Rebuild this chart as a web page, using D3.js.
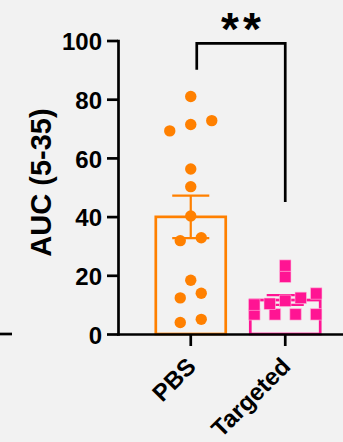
<!DOCTYPE html>
<html>
<head>
<meta charset="utf-8">
<script src="https://cdn.jsdelivr.net/npm/d3@7"></script>
<style>
body { margin: 0; background: #f2f2f2; }
svg { display: block; font-family: "Liberation Sans", Arial, sans-serif; font-weight: bold; }
</style>
</head>
<body>
<div id="chart"></div>
<script>
const width = 343
const height = 442

const margin = {
    top: 40.5,
    bottom: 108,
    left: 118
}

// data
const categories = ["PBS", "Targeted"]
const pbsValues = [80.9, 72.7, 71.4, 69.2, 56.2, 50.2, 40.2, 32.8, 31.8, 18.3, 13.9, 12.3, 5.0, 3.9]
const targetedValues = [23.3, 19.5, 13.8, 12.3, 11.3, 10.3, 10.0, 6.7, 6.7, 6.7, 6.7]
const yTicks = [0, 20, 40, 60, 80, 100]
const yTitle = "AUC (5-35)"
const sigLabel = "**"
const bracketValues = [90, 99, 45]   // left arm end, bar, right arm end

const colors = { PBS: "#ff8000", Targeted: "#ff1493" }

const svg = d3.select("div#chart").append("svg").attr("width", width).attr("height", height)
svg.append("rect").attr("width", width).attr("height", height).attr("fill", "#f2f2f2")

const x = d3.scaleBand().domain(categories).range([margin.left, margin.left + 240]).paddingInner(0.26).paddingOuter(0.4)
const y = d3.scaleLinear().domain([0, 100]).range([height - margin.bottom, margin.top])

const groups = [
    { name: "PBS", values: pbsValues },
    { name: "Targeted", values: targetedValues }
]
groups.forEach(g => {
    g.mean = d3.mean(g.values)
    g.sem = d3.deviation(g.values) / Math.sqrt(g.values.length)
})

// simple column scatter: values that sit close together are laid out in a row
function swarm(values, step, maxHalf) {
    const sorted = values.slice().sort((a, b) => a - b)
    const rows = []
    let cur = []
    sorted.forEach((v, k) => {
        if (k > 0 && y(sorted[k - 1]) - y(v) >= 9) { rows.push(cur); cur = [] }
        cur.push(v)
    })
    rows.push(cur)
    const out = []
    rows.forEach(r => {
        const n = r.length
        const s = n > 1 ? Math.min(step, 2 * maxHalf / (n - 1)) : 0
        r.forEach((v, j) => out.push({ v: v, dx: (j - (n - 1) / 2) * s }))
    })
    return out
}

const chart = svg.append("g").attr("class", "chart")

// bars
chart.selectAll("rect.bar").data(groups).enter()
    .append("rect")
    .attr("class", "bar")
    .attr("x", d => x(d.name))
    .attr("y", d => y(d.mean))
    .attr("width", x.bandwidth())
    .attr("height", d => y(0) - y(d.mean))
    .attr("fill", "none")
    .attr("stroke", d => colors[d.name])
    .attr("stroke-width", 2.7)

// error bars (mean +/- SEM)
const cap = x.bandwidth() * 0.265
const err = chart.selectAll("g.err").data(groups).enter().append("g").attr("class", "err")
    .attr("stroke", d => colors[d.name]).attr("stroke-width", 2.2).attr("fill", "none")
err.append("path")
    .attr("d", d => {
        const cx = x(d.name) + x.bandwidth() / 2
        const hi = y(d.mean + d.sem), lo = y(d.mean - d.sem)
        return `M${cx},${lo}V${hi}M${cx - cap},${hi}H${cx + cap}M${cx - cap},${lo}H${cx + cap}`
    })

// points
const pbsPts = swarm(pbsValues, 21, 31)
const tgtPts = swarm(targetedValues, 20.6, 31)

chart.selectAll("path.pbs").data(pbsPts).enter()
    .append("path")
    .attr("class", "pbs")
    .attr("d", d3.symbol().type(d3.symbolCircle).size(102))
    .attr("transform", d => `translate(${x("PBS") + x.bandwidth() / 2 + d.dx},${y(d.v)})`)
    .attr("fill", colors.PBS)

chart.selectAll("path.tgt").data(tgtPts).enter()
    .append("path")
    .attr("class", "tgt")
    .attr("d", d3.symbol().type(d3.symbolSquare).size(132))
    .attr("transform", d => `translate(${x("Targeted") + x.bandwidth() / 2 + d.dx},${y(d.v)})`)
    .attr("fill", colors.Targeted)
    .attr("stroke", "#ffc0dd")
    .attr("stroke-width", 0.6)

// axes
const yAxisGroup = svg.append("g").attr("class", "yAxisGroup").attr("transform", `translate(${margin.left},0)`)
const xAxisGroup = svg.append("g").attr("class", "xAxisGroup").attr("transform", `translate(0,${y(0)})`)

yAxisGroup.call(d3.axisLeft(y).tickValues(yTicks).tickSize(11).tickSizeOuter(0).tickPadding(5))
xAxisGroup.call(d3.axisBottom(x).tickSize(12).tickSizeOuter(0))

svg.selectAll(".yAxisGroup path, .yAxisGroup line, .xAxisGroup path, .xAxisGroup line")
    .attr("stroke", "#000").attr("stroke-width", 2.7)
svg.selectAll(".domain").attr("stroke-linecap", "square")

yAxisGroup.attr("font-family", null)
xAxisGroup.attr("font-family", null)

yAxisGroup.selectAll("text")
    .attr("fill", "#000").attr("font-size", 24).attr("dy", "0.38em")

xAxisGroup.selectAll("text")
    .attr("fill", "#000").attr("font-size", 24)
    .attr("text-anchor", "end")
    .attr("y", 0).attr("dy", 0)
    .attr("transform", "translate(6.5,34) rotate(-45)")

// left stub of the neighbouring panel's axis
svg.append("line")
    .attr("x1", 0).attr("x2", 12).attr("y1", y(0)).attr("y2", y(0))
    .attr("stroke", "#000").attr("stroke-width", 2.7)

// y title
svg.append("text")
    .attr("transform", `translate(50.5,182.5) rotate(-90)`)
    .attr("text-anchor", "middle")
    .attr("font-size", 29)
    .attr("fill", "#000")
    .text(yTitle)

// significance bracket
const xL = x("PBS") + x.bandwidth() / 2 + 6
const xR = x("Targeted") + x.bandwidth() / 2
svg.append("path")
    .attr("d", `M${xL},${y(bracketValues[0])}V${y(bracketValues[1])}H${xR}V${y(bracketValues[2])}`)
    .attr("fill", "none").attr("stroke", "#000").attr("stroke-width", 2.7)

svg.append("text")
    .attr("x", (xL + xR) / 2 + 2)
    .attr("y", 45)
    .attr("text-anchor", "middle")
    .attr("font-size", 46)
    .attr("letter-spacing", 4)
    .attr("fill", "#000")
    .text(sigLabel)
</script>
</body>
</html>
